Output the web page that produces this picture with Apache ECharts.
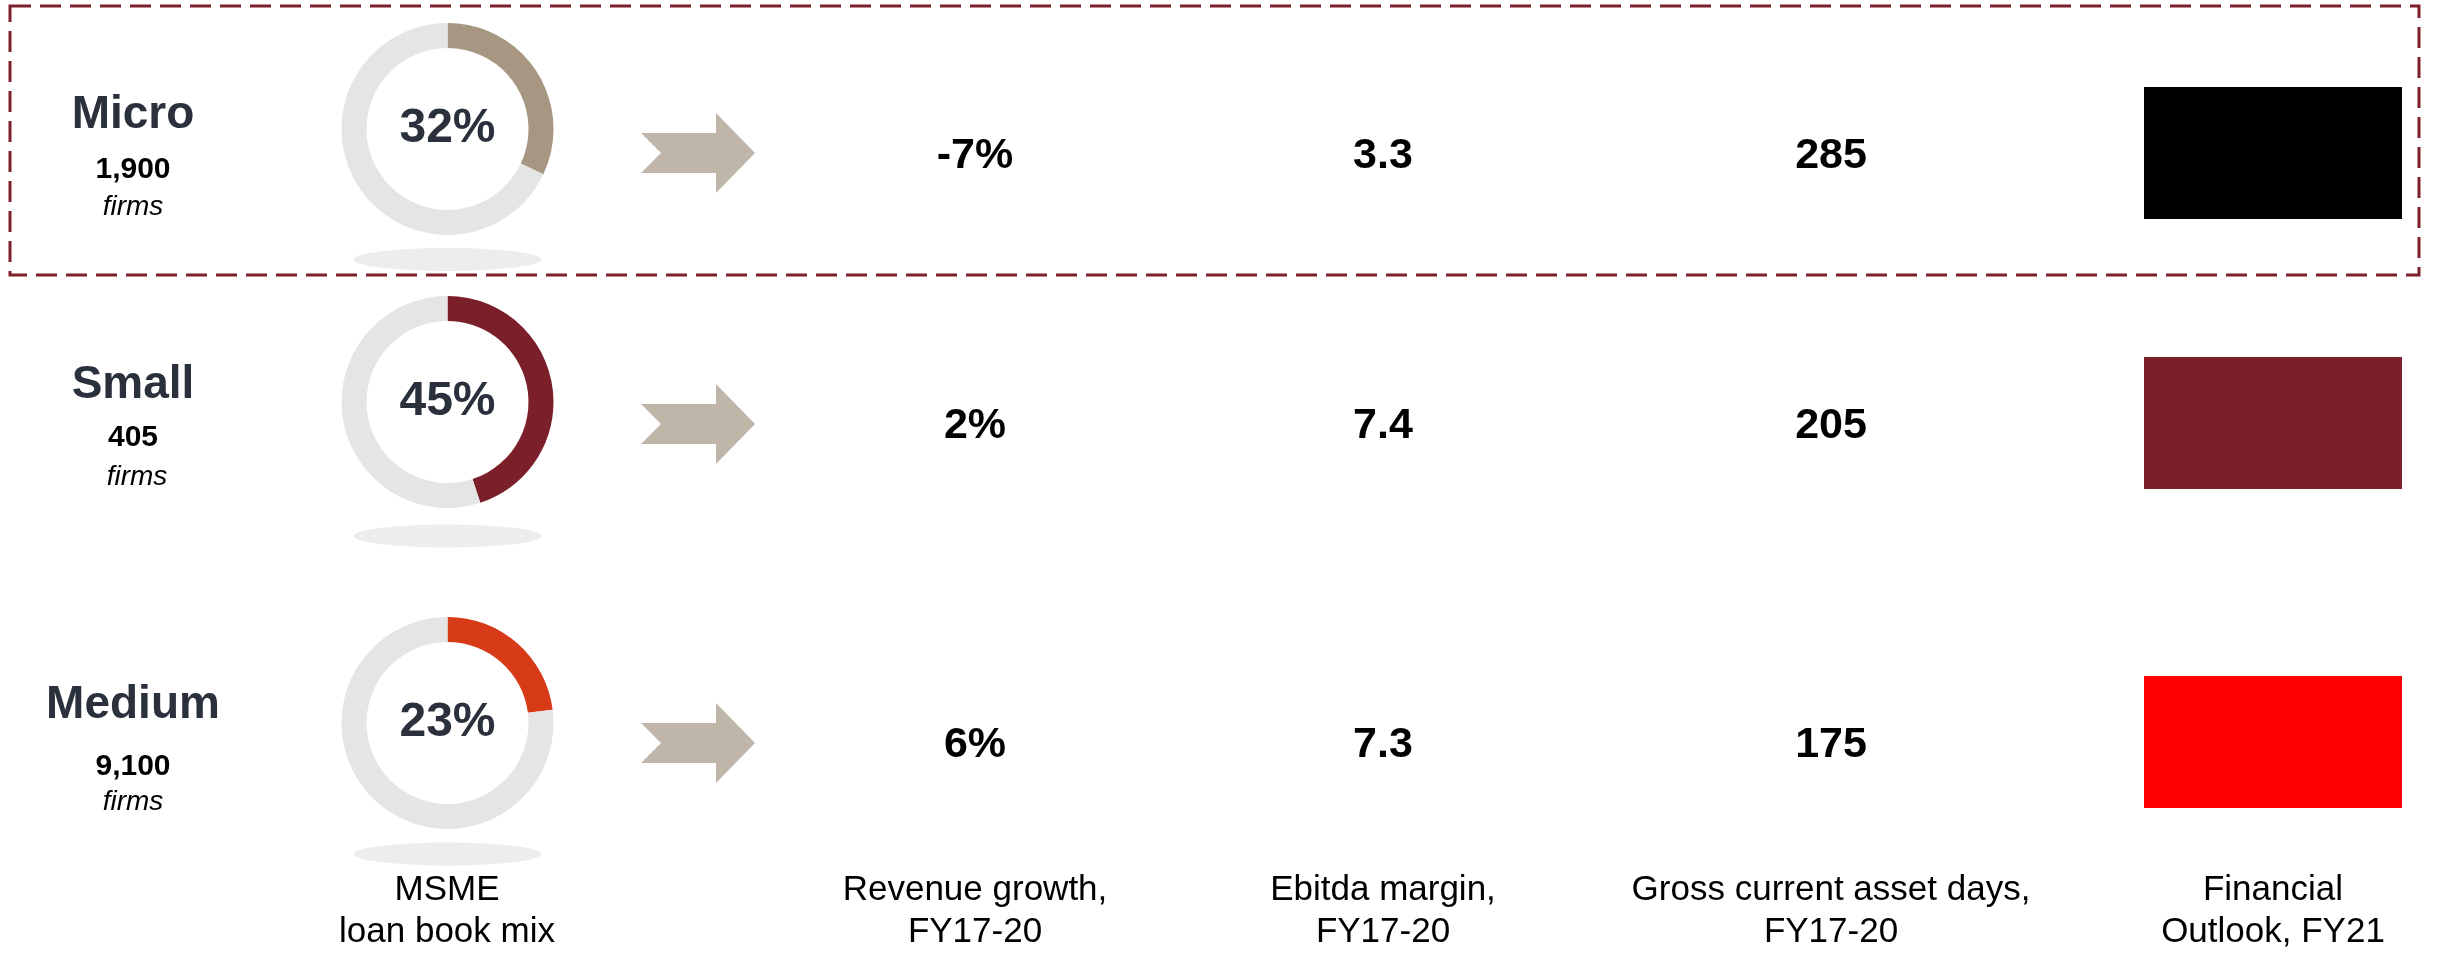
<!DOCTYPE html>
<html>
<head>
<meta charset="utf-8">
<script src="https://cdn.jsdelivr.net/npm/echarts@6/dist/echarts.min.js"></script>
<style>
html,body{margin:0;padding:0;background:#ffffff;}
#chart{width:2437px;height:956px;}
</style>
</head>
<body>
<div id="chart"></div>
<script>
// ---------------- data ----------------
const segments = ['Micro', 'Small', 'Medium'];
const firmCounts = ['1,900', '405', '9,100'];
const loanMixPct = [32, 45, 23];
const revenueGrowthPct = [-7, 2, 6];
const ebitdaMargin = [3.3, 7.4, 7.3];
const grossCurrentAssetDays = [285, 205, 175];
const outlookColors = ['#000000', '#7b1f2a', '#ff0000'];
const metricLabels = ['Revenue growth,\nFY17-20', 'Ebitda margin,\nFY17-20', 'Gross current asset days,\nFY17-20', 'Financial\nOutlook, FY21'];
const mixLabel = 'MSME\nloan book mix';
const firmsWord = 'firms';

// ---------------- layout / style ----------------
const FONT = '"Liberation Sans", Arial, sans-serif';
const segColors = ['#a69682', '#7b1f2a', '#d63a17'];
const ringGray = '#e5e5e5';
const rowY = [153, 423, 742];
const colX = [975, 1383, 1831, 2273];
const donutX = 447.5;
const donutY = [129, 402, 723];
const shadowY = [259.5, 536, 854];
const arrowY = [153, 424, 743];
const nameY = [115, 385, 705];
const countY = [170, 438, 767];
const firmsY = [207, 477, 802];
const firmsX = [133, 137, 133];
const cellW = 300, cellH = 132;

const chart = echarts.init(document.getElementById('chart'), null, {renderer: 'canvas'});

const grids = [], xAxes = [], yAxes = [], series = [];
const metricValues = [
  revenueGrowthPct.map(v => v + '%'),
  ebitdaMargin.map(v => v.toFixed(1)),
  grossCurrentAssetDays.map(v => String(v))
];

for (let r = 0; r < segments.length; r++) {
  for (let c = 0; c < metricLabels.length; c++) {
    const gi = grids.length;
    grids.push({left: colX[c] - cellW / 2, top: rowY[r] - cellH / 2, width: cellW, height: cellH});
    const isBottom = r === segments.length - 1;
    xAxes.push({
      gridIndex: gi, type: 'category', data: [metricLabels[c]], show: isBottom,
      axisLine: {show: false}, axisTick: {show: false}, splitLine: {show: false},
      axisLabel: {show: isBottom, interval: 0, margin: 61, fontSize: 35, lineHeight: 42,
        color: '#000', fontFamily: FONT}
    });
    yAxes.push({gridIndex: gi, type: 'category', data: [segments[r]], show: false});
    if (c < 3) {
      series.push({
        type: 'scatter', xAxisIndex: gi, yAxisIndex: gi, silent: true,
        symbolSize: 1, itemStyle: {color: 'rgba(0,0,0,0)', opacity: 1},
        data: [[metricLabels[c], segments[r], metricValues[c][r]]],
        label: {show: true, position: 'inside', offset: [0, 3], opacity: 1,
          formatter: p => p.value[2], fontSize: 43, fontWeight: 'bold', color: '#000000', fontFamily: FONT}
      });
    } else {
      series.push({
        type: 'scatter', xAxisIndex: gi, yAxisIndex: gi, silent: true,
        symbol: 'rect', symbolSize: [258, 132],
        data: [{value: [metricLabels[c], segments[r]], itemStyle: {color: outlookColors[r], opacity: 1}}],
        itemStyle: {opacity: 1},
        label: {show: false}
      });
    }
  }
}

// donuts
for (let r = 0; r < segments.length; r++) {
  series.push({
    type: 'pie', silent: true, center: [donutX, donutY[r]], radius: [81, 106],
    startAngle: 90, clockwise: true, avoidLabelOverlap: false,
    labelLine: {show: false}, emphasis: {disabled: true},
    itemStyle: {borderWidth: 0, borderRadius: 0},
    data: [
      {value: loanMixPct[r], name: segments[r], itemStyle: {color: segColors[r]},
       label: {show: true, position: 'center', formatter: '{c}%', fontSize: 48, fontWeight: 'bold',
         color: '#2a313c', fontFamily: FONT}},
      {value: 100 - loanMixPct[r], name: 'rest', itemStyle: {color: ringGray}, label: {show: false}}
    ]
  });
}

// graphics: box, shadows, arrows, row labels, column label
const graphic = [];
graphic.push({type: 'rect', silent: true, z: 0,
  shape: {x: 10, y: 6, width: 2409, height: 269},
  style: {fill: 'none', stroke: '#7e1f2c', lineWidth: 3, lineDash: [21, 9]}});
for (let r = 0; r < segments.length; r++) {
  graphic.push({type: 'ellipse', silent: true, z: 0,
    shape: {cx: donutX, cy: shadowY[r], rx: 94, ry: 11.5}, style: {fill: '#ecedee'}});
  const y = arrowY[r];
  graphic.push({type: 'polygon', silent: true,
    shape: {points: [[641, y - 20], [716, y - 20], [716, y - 40], [755, y], [716, y + 40], [716, y + 20], [641, y + 20], [661, y]]},
    style: {fill: '#bfb6a9'}});
  graphic.push({type: 'text', silent: true,
    style: {text: segments[r], x: 133, y: nameY[r], align: 'center', verticalAlign: 'middle',
      fontSize: 46, fontWeight: 'bold', fontFamily: FONT, fill: '#2a313c'}});
  graphic.push({type: 'text', silent: true,
    style: {text: firmCounts[r], x: 133, y: countY[r], align: 'center', verticalAlign: 'middle',
      fontSize: 30, fontWeight: 'bold', fontFamily: FONT, fill: '#000'}});
  graphic.push({type: 'text', silent: true,
    style: {text: firmsWord, x: firmsX[r], y: firmsY[r], align: 'center', verticalAlign: 'middle',
      fontSize: 28, fontStyle: 'italic', fontFamily: FONT, fill: '#000'}});
}
graphic.push({type: 'text', silent: true,
  style: {text: mixLabel, x: 447, y: 911, align: 'center', verticalAlign: 'middle',
    fontSize: 35, lineHeight: 42, fontFamily: FONT, fill: '#000'}});

chart.setOption({
  animation: false,
  backgroundColor: '#ffffff',
  grid: grids,
  xAxis: xAxes,
  yAxis: yAxes,
  series: series,
  graphic: graphic
});
</script>
</body>
</html>
